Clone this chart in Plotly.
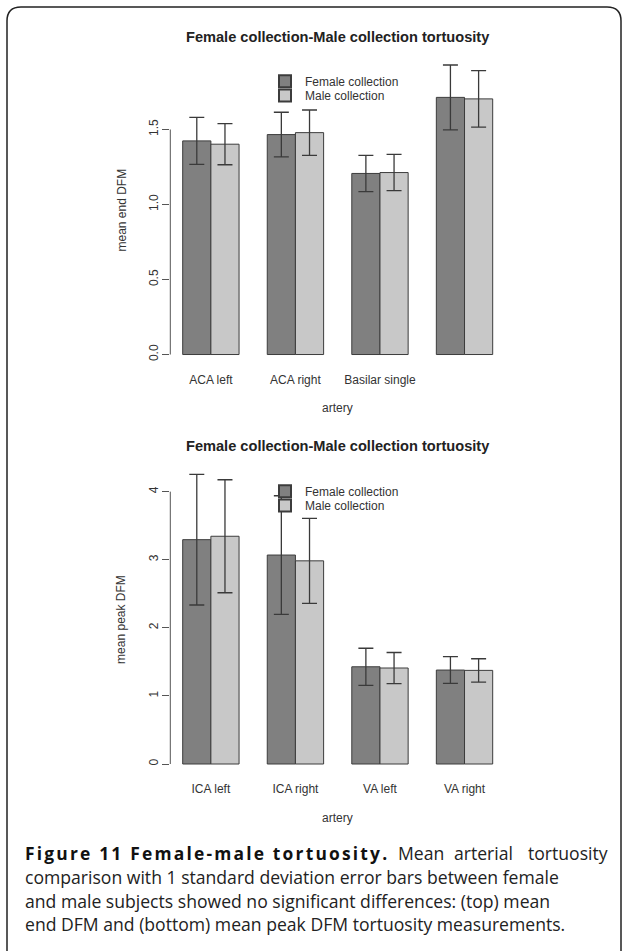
import plotly.graph_objects as go

# ---------------- data ----------------
series_names = ["Female collection", "Male collection"]

top_labels = ["ACA left", "ACA right", "Basilar single", ""]
top_female = [1.424, 1.466, 1.207, 1.714]
top_female_sd = [0.157, 0.149, 0.121, 0.216]
top_male = [1.402, 1.479, 1.213, 1.704]
top_male_sd = [0.137, 0.151, 0.121, 0.188]
top_ticks = [0.0, 0.5, 1.0, 1.5]

bottom_labels = ["ICA left", "ICA right", "VA left", "VA right"]
bottom_female = [3.295, 3.069, 1.428, 1.380]
bottom_female_sd = [0.960, 0.871, 0.272, 0.196]
bottom_male = [3.345, 2.984, 1.410, 1.375]
bottom_male_sd = [0.830, 0.624, 0.228, 0.171]
bottom_ticks = [0, 1, 2, 3, 4]

chart_title = "Female collection-Male collection tortuosity"
top_ylabel = "mean end DFM"
bottom_ylabel = "mean peak DFM"
xlabel = "artery"
caption_bold = "Figure 11 Female-male tortuosity."
caption_line1_words = ["Mean", "arterial", "tortuosity"]
caption_lines = [
    "comparison with 1 standard deviation error bars between female",
    "and male subjects showed no significant differences: (top) mean",
    "end DFM and (bottom) mean peak DFM tortuosity measurements.",
]

# ---------------- styling ----------------
W, H = 624, 951
FEMALE_COL = "#808080"
MALE_COL = "#c8c8c8"
EDGE = "#3c3c3c"
TXT = "#333333"
FONT = "Liberation Sans, Arial, sans-serif"
CAP_FONT = "Open Sans, sans-serif"


def px(x):
    return x / W


def py(y):
    return 1 - y / H


fig = go.Figure()


def add_pair(fem, fem_sd, male, male_sd, xa, ya, legends):
    xs = list(range(len(fem)))
    for name, vals, sd, col, lg in [
        (series_names[0], fem, fem_sd, FEMALE_COL, legends[0]),
        (series_names[1], male, male_sd, MALE_COL, legends[1]),
    ]:
        fig.add_trace(go.Bar(
            x=xs, y=vals, name=name, xaxis=xa, yaxis=ya,
            marker=dict(color=col, line=dict(color=EDGE, width=1)),
            error_y=dict(type="data", array=sd, visible=True,
                         color="#3a3a3a", thickness=1.3, width=7.5),
            legend=lg, showlegend=True, offsetgroup=name,
        ))


add_pair(top_female, top_female_sd, top_male, top_male_sd, "x", "y", ("legend", "legend2"))
add_pair(bottom_female, bottom_female_sd, bottom_male, bottom_male_sd, "x2", "y2", ("legend3", "legend4"))

top_max = max(max(m + s for m, s in zip(top_female, top_female_sd)),
              max(m + s for m, s in zip(top_male, top_male_sd)))
bot_max = max(max(m + s for m, s in zip(bottom_female, bottom_female_sd)),
              max(m + s for m, s in zip(bottom_male, bottom_male_sd)))

xdom = [px(170.3), px(505.1)]
xrng = [-0.48, len(top_labels) - 1 + 0.48]

axis_font = dict(family=FONT, size=12, color=TXT)

common_x = dict(domain=xdom, range=xrng, showgrid=False, zeroline=False,
                showline=False, ticks="outside", ticklen=2, tickcolor="rgba(0,0,0,0)",
                tickfont=axis_font)
common_y = dict(showgrid=False, zeroline=False, showline=False, ticks="outside",
                ticklen=7, tickwidth=1, tickcolor="#555555", tickangle=-90,
                tickfont=axis_font)


def legend_at(y_center):
    return dict(x=px(265), y=py(y_center - 14), xanchor="left", yanchor="top",
                font=dict(family=FONT, size=12, color=TXT), bgcolor="rgba(0,0,0,0)",
                tracegroupgap=0, itemsizing="constant")


fig.update_layout(
    width=W, height=H, autosize=False,
    margin=dict(l=0, r=0, t=0, b=0),
    paper_bgcolor="white", plot_bgcolor="white",
    barmode="group", bargap=1 / 3, bargroupgap=0,
    xaxis=dict(common_x, anchor="y", tickvals=list(range(len(top_labels))), ticktext=top_labels),
    yaxis=dict(common_y, anchor="x", domain=[py(366.1), py(53.4)],
               range=[-0.04 * top_max, 1.04 * top_max],
               tickvals=top_ticks, tickformat=".1f"),
    xaxis2=dict(common_x, anchor="y2", tickvals=list(range(len(bottom_labels))), ticktext=bottom_labels),
    yaxis2=dict(common_y, anchor="x2", domain=[py(775.6), py(462.7)],
                range=[-0.04 * bot_max, 1.04 * bot_max],
                tickvals=bottom_ticks, tickformat="d"),
    legend=legend_at(80.7),
    legend2=legend_at(95.0),
    legend3=legend_at(490.7),
    legend4=legend_at(505.0),
)

# y axis lines spanning first to last tick (R style)
fig.add_shape(type="line", xref="x domain", yref="y", x0=0, x1=0,
              y0=top_ticks[0], y1=top_ticks[-1], line=dict(color="#555555", width=1))
fig.add_shape(type="line", xref="x2 domain", yref="y2", x0=0, x1=0,
              y0=bottom_ticks[0], y1=bottom_ticks[-1], line=dict(color="#555555", width=1))

# titles and axis labels
ann = []
for ty in (36.7, 446):
    ann.append(dict(text="<b>" + chart_title + "</b>", x=px(337.5), y=py(ty), xref="paper", yref="paper",
                    showarrow=False, xanchor="center", yanchor="middle",
                    font=dict(family=FONT, size=14.6, color="#222222")))
for label, ty in ((top_ylabel, 209.8), (bottom_ylabel, 619.2)):
    ann.append(dict(text=label, x=px(121.7), y=py(ty), xref="paper", yref="paper", textangle=-90,
                    showarrow=False, xanchor="center", yanchor="middle", font=axis_font))
for ty in (408.3, 818):
    ann.append(dict(text=xlabel, x=px(337.7), y=py(ty), xref="paper", yref="paper",
                    showarrow=False, xanchor="center", yanchor="middle", font=axis_font))

# caption (first line justified)
cap_font = dict(family=CAP_FONT, size=17.6, color="#222222")
ann.append(dict(text='<span style="letter-spacing:2.2px"><b>' + caption_bold + "</b></span>",
                x=px(22.7), y=py(853.3), xref="paper", yref="paper",
                showarrow=False, xanchor="left", yanchor="middle",
                font=dict(family=CAP_FONT, size=17.4, color="#111111")))
line1_x = [(396, "left"), (452, "left"), (610, "right")]
for w, (xw, anc) in zip(caption_line1_words, line1_x):
    ann.append(dict(text=w, x=px(xw), y=py(853.3), xref="paper", yref="paper",
                    showarrow=False, xanchor=anc, yanchor="middle", font=cap_font))
for i, line in enumerate(caption_lines):
    ann.append(dict(text=line, x=px(22.7), y=py(877 + 23.6 * i), xref="paper", yref="paper",
                    showarrow=False, xanchor="left", yanchor="middle", font=cap_font))
fig.update_layout(annotations=ann)

# rounded frame (bottom edge runs off the page)
r = 14
x0, x1, y0, y1 = 7, 621, 7, 965
path = (f"M {px(x0)} {py(y0 + r)} "
        f"Q {px(x0)} {py(y0)} {px(x0 + r)} {py(y0)} "
        f"L {px(x1 - r)} {py(y0)} "
        f"Q {px(x1)} {py(y0)} {px(x1)} {py(y0 + r)} "
        f"L {px(x1)} {py(y1 - r)} "
        f"Q {px(x1)} {py(y1)} {px(x1 - r)} {py(y1)} "
        f"L {px(x0 + r)} {py(y1)} "
        f"Q {px(x0)} {py(y1)} {px(x0)} {py(y1 - r)} Z")
fig.add_shape(type="path", xref="paper", yref="paper", path=path,
              line=dict(color="#222222", width=1.5), layer="below")

fig.write_html("out.html", config={"displayModeBar": False},
               post_script="document.body.style.margin='0';document.body.style.overflow='hidden';")
